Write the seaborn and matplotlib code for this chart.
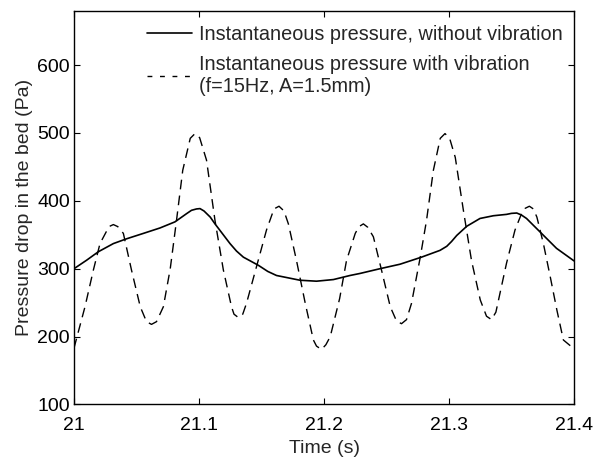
import numpy as np
import pandas as pd
import matplotlib
matplotlib.use("Agg")
import matplotlib.pyplot as plt
import seaborn as sns

# Pressure without vibration (solid line)
t_novib = [21.0, 21.0101, 21.0195, 21.0315, 21.042, 21.0555, 21.0688, 21.0808,
           21.090, 21.094, 21.098, 21.1008, 21.104, 21.109, 21.1128, 21.1248,
           21.13, 21.1355, 21.1475, 21.155, 21.162, 21.1808, 21.194, 21.2075,
           21.2208, 21.2288, 21.2448, 21.2608, 21.278, 21.2928, 21.2982, 21.302,
           21.3062, 21.3142, 21.3248, 21.3355, 21.346, 21.350, 21.3542, 21.358,
           21.362, 21.374, 21.386, 21.4]
p_novib = [300, 312.5, 325, 337, 344, 352, 360, 369,
           381, 386, 388, 388.5, 385, 376, 366, 337,
           326, 317, 305, 296, 290, 283, 281.6, 284,
           290, 293, 300, 306.6, 317, 327, 333, 340,
           349, 362.5, 374, 378, 380, 381.5, 382, 379,
           374, 352, 330, 311.5]

# Pressure with vibration, f=15Hz, A=1.5mm (dashed line)
t_vib = [21.0, 21.0088, 21.0155, 21.0208, 21.028, 21.0315, 21.035, 21.0395,
         21.046, 21.053, 21.058, 21.062, 21.066, 21.0715, 21.077, 21.082,
         21.087, 21.093, 21.0968, 21.1005, 21.106, 21.1128, 21.1195, 21.126,
         21.128, 21.1315, 21.135, 21.138, 21.146, 21.154, 21.160, 21.164,
         21.168, 21.1715, 21.178, 21.185, 21.1915, 21.194, 21.198, 21.2015,
         21.205, 21.2125, 21.218, 21.225, 21.228, 21.2315, 21.235, 21.2395,
         21.246, 21.253, 21.258, 21.262, 21.266, 21.270, 21.277, 21.282,
         21.2875, 21.293, 21.2968, 21.3005, 21.305, 21.3115, 21.318, 21.325,
         21.330, 21.334, 21.3375, 21.3408, 21.346, 21.3528, 21.358, 21.361,
         21.3643, 21.3675, 21.3703, 21.3755, 21.381, 21.3863, 21.3915, 21.4]
p_vib = [183, 244, 298, 337, 362, 365, 362, 352,
         298, 244, 222, 218, 222, 244, 300, 371,
         445, 492, 499, 493, 460, 371, 298, 244,
         233, 228, 233, 249, 303, 357, 388, 392,
         385, 366, 312, 249, 195, 186, 181, 188,
         200, 256, 312, 352, 362, 366, 361, 347,
         298, 244, 223, 219, 225, 249, 317, 371,
         445, 492, 499, 492, 464, 386, 312, 254,
         230, 225, 236, 264, 308, 357, 381, 389,
         392, 388, 376, 337, 288, 239, 195, 182]

x_ticks = [21, 21.1, 21.2, 21.3, 21.4]
x_ticklabels = ["21", "21.1", "21.2", "21.3", "21.4"]
y_ticks = [100, 200, 300, 400, 500, 600]

label_novib = "Instantaneous pressure, without vibration"
label_vib = "Instantaneous pressure with vibration\n(f=15Hz, A=1.5mm)"

df_novib = pd.DataFrame({"t": t_novib, "p": p_novib})
df_vib = pd.DataFrame({"t": t_vib, "p": p_vib})

sns.set_style("ticks")
plt.rcParams["font.family"] = ["Liberation Sans", "DejaVu Sans"]

fig = plt.figure(figsize=(6.08, 4.57), dpi=100)
ax = fig.add_axes([0.1217, 0.1149, 0.8224, 0.8617])

sns.lineplot(data=df_novib, x="t", y="p", ax=ax, color="black", lw=1.2,
             sort=False, estimator=None, label=label_novib)
sns.lineplot(data=df_vib, x="t", y="p", ax=ax, color="black", lw=1.0,
             sort=False, estimator=None, label=label_vib)
ax.lines[1].set_dashes((7, 4.5))

ax.set_xlim(21, 21.4)
ax.set_ylim(100, 680)
ax.set_xticks(x_ticks)
ax.set_xticklabels(x_ticklabels)
ax.set_yticks(y_ticks)
ax.tick_params(direction="in", top=True, right=True, length=4, width=0.8,
               labelsize=14, colors="black", pad=3)
ax.tick_params(axis="x", pad=9)
for sp in ax.spines.values():
    sp.set_linewidth(1.0)
    sp.set_color("black")

ax.set_xlabel("Time (s)", fontsize=14, labelpad=4)
ax.set_ylabel("Pressure drop in the bed (Pa)", fontsize=14, labelpad=3)

leg = ax.legend(loc="upper left", bbox_to_anchor=(147 / 608, 1 - 25 / 457),
                bbox_transform=fig.transFigure, frameon=False, fontsize=14.3,
                handlelength=2.28, handletextpad=0.32, borderpad=0,
                borderaxespad=0, labelspacing=0.55)
for h in leg.get_lines():
    h.set_color("black")
leg.get_lines()[1].set_dashes((3.5, 5.5))

fig.savefig("out.png", dpi=100)
